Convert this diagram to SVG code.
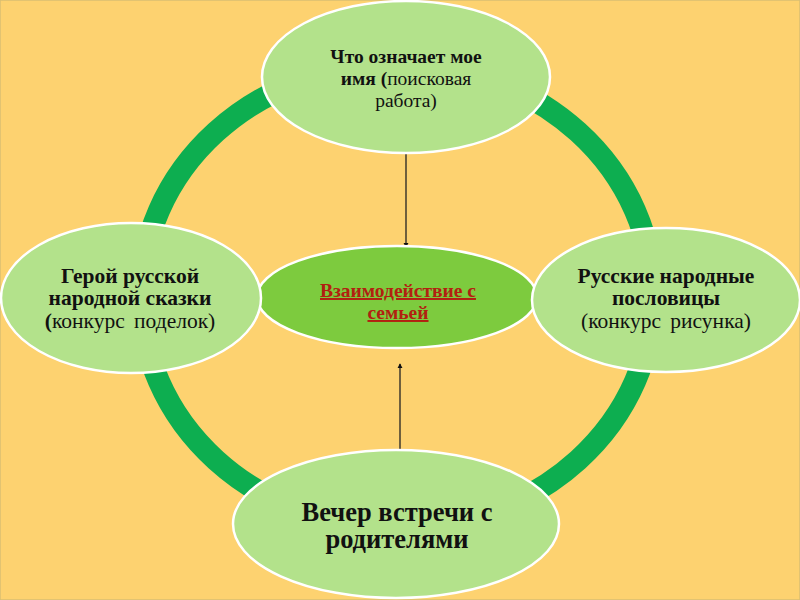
<svg xmlns="http://www.w3.org/2000/svg" width="800" height="600" viewBox="0 0 800 600">
<style>
.node{fill:#B3E28B;stroke:#ffffff;stroke-width:2.5}
.center{fill:#7DCB3E;stroke:#ffffff;stroke-width:2.5}
.t{font-family:"Liberation Serif","Times New Roman",serif;font-size:21.5px;fill:#111;text-anchor:middle}
.s{font-size:19.5px}
.b{font-weight:bold}
.red{fill:#B22010;font-weight:bold;font-size:19.5px;text-decoration:underline}
.big{font-size:26.5px}
.conn{stroke:#222;stroke-width:1.3;fill:none;marker-end:url(#ah)}
</style>
<defs>
<marker id="ah" viewBox="0 0 6 6" refX="5" refY="3" markerWidth="4" markerHeight="4" orient="auto">
<path d="M0,0 L6,3 L0,6 z" fill="#111"/>
</marker>
</defs>
<rect x="0" y="0" width="800" height="600" fill="#FDD270" stroke="#D9BE72" stroke-width="1.5"/>
<ellipse cx="397" cy="296" rx="256" ry="232" fill="none" stroke="#0DAE50" stroke-width="22"/>
<g id="connectors">
<line class="conn" x1="406" y1="154" x2="406" y2="247"/>
<line class="conn" x1="400" y1="463" x2="400" y2="364"/>
<line class="conn" x1="243" y1="293" x2="273" y2="294"/>
<line class="conn" x1="546" y1="293" x2="520" y2="293"/>
</g>
<g id="center">
<ellipse class="center" cx="397" cy="297" rx="140" ry="51"/>
<text class="t red" x="398" y="297">Взаимодействие с</text>
<text class="t red" x="398" y="319">семьей</text>
</g>
<g id="top">
<ellipse class="node" cx="406" cy="77" rx="144" ry="76"/>
<text class="t s" x="406" y="63"><tspan class="b">Что означает мое</tspan></text>
<text class="t s" x="406" y="85"><tspan class="b">имя (</tspan>поисковая</text>
<text class="t s" x="406" y="107">работа)</text>
</g>
<g id="left">
<ellipse class="node" cx="131" cy="298" rx="130" ry="75"/>
<text class="t b" x="130" y="283">Герой русской</text>
<text class="t b" x="130" y="305">народной сказки</text>
<text class="t" x="130" y="328" word-spacing="4"><tspan class="b">(</tspan>конкурс поделок)</text>
</g>
<g id="right">
<ellipse class="node" cx="666" cy="300" rx="134" ry="72"/>
<text class="t b" x="666" y="283">Русские народные</text>
<text class="t b" x="666" y="305">пословицы</text>
<text class="t" x="666" y="328" word-spacing="4">(конкурс рисунка)</text>
</g>
<g id="bottom">
<ellipse class="node" cx="396" cy="524" rx="163" ry="74"/>
<text class="t b big" x="397" y="521">Вечер встречи с</text>
<text class="t b big" x="397" y="548">родителями</text>
</g>
</svg>
